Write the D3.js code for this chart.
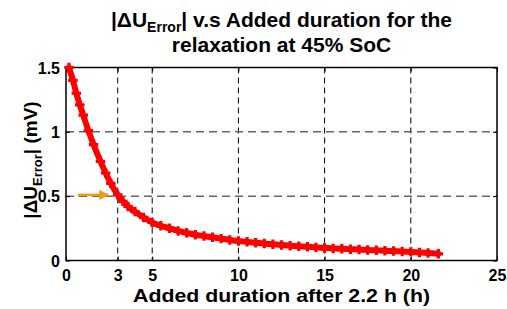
<html lang="en">
<head>
<meta charset="utf-8">
<script src="https://cdn.jsdelivr.net/npm/d3@7"></script>
</head>
<style>
body{margin:0;background:#fff;}
svg{display:block;font-family:"Liberation Sans",Arial,sans-serif;font-weight:bold;}
</style>
<body>
<div id="drawarea"></div>
<script>
// values
const durationH=[0.17,0.4,0.6,0.8,1.0,1.3,1.6,2.0,2.3,2.6,3.0,3.3,3.6,4.0,4.5,5.0,5.5,6.0,6.5,7.0,7.5,8.0,8.5,9.0,9.5,10.0,10.5,11.0,11.5,12.0,12.5,13.0,13.5,14.0,14.5,15.0,15.5,16.0,16.5,17.0,17.5,18.0,18.5,19.0,19.5,20.0,20.5,21.0,21.6]
const errorMV=[1.50,1.40,1.30,1.21,1.13,1.01,0.90,0.77,0.68,0.60,0.51,0.46,0.42,0.38,0.335,0.295,0.27,0.25,0.23,0.215,0.20,0.19,0.18,0.17,0.16,0.152,0.145,0.138,0.132,0.126,0.12,0.115,0.11,0.106,0.102,0.098,0.094,0.091,0.088,0.085,0.082,0.079,0.076,0.073,0.07,0.067,0.063,0.058,0.052]
const xTicks=[0,3,5,10,15,20,25]
const yTicks=[0,0.5,1,1.5]
const yTickLabels=["0","0.5","1","1.5"]
const xGrid=[3,5,10,15,20]
const yGrid=[0.5,1]
const arrowX=[0.68,2.45], arrowY=0.51

const W=507,H=309
const pL=66,pR=497,pT=67.5,pB=260.5

const svg=d3.select("#drawarea").append("svg").attr("width",W).attr("height",H)
svg.append("rect").attr("width",W).attr("height",H).attr("fill","#fff")

const x=d3.scaleLinear().domain([0,25]).range([pL,pR])
const y=d3.scaleLinear().domain([0,1.5]).range([pB,pT])

// grid
svg.append("g").selectAll("line").data(xGrid).enter().append("line")
  .attr("x1",d=>x(d)).attr("x2",d=>x(d)).attr("y1",pT).attr("y2",pB)
  .attr("stroke","#000").attr("stroke-width",1).attr("stroke-dasharray","6,4")
svg.append("g").selectAll("line").data(yGrid).enter().append("line")
  .attr("x1",pL).attr("x2",pR).attr("y1",d=>y(d)).attr("y2",d=>y(d))
  .attr("stroke","#666").attr("stroke-width",1.5).attr("stroke-dasharray","8,5")

// axes with inward ticks
const xAx=svg.append("g").attr("transform","translate(0,"+pB+")")
  .call(d3.axisBottom(x).tickValues(xTicks).tickSizeInner(-4).tickSizeOuter(0).tickPadding(9))
const yAx=svg.append("g").attr("transform","translate("+pL+",0)")
  .call(d3.axisLeft(y).tickValues(yTicks).tickFormat((d,i)=>yTickLabels[i]).tickSizeInner(-4).tickSizeOuter(0).tickPadding(6))
svg.append("g").attr("transform","translate(0,"+pT+")")
  .call(d3.axisTop(x).tickValues(xTicks).tickSizeInner(-4).tickSizeOuter(0).tickFormat(""))
svg.append("g").attr("transform","translate("+pR+",0)")
  .call(d3.axisRight(y).tickValues(yTicks).tickSizeInner(-4).tickSizeOuter(0).tickFormat(""))
svg.selectAll(".domain").remove()
svg.selectAll(".tick line").attr("stroke","#000")
svg.selectAll(".tick text").attr("font-family","Liberation Sans, Arial, sans-serif").attr("font-weight","bold").attr("font-size","16px").attr("fill","#000")
yAx.selectAll(".tick text").attr("dy","0.35em")

svg.append("rect").attr("x",pL).attr("y",pT).attr("width",pR-pL).attr("height",pB-pT)
  .attr("fill","none").attr("stroke","#000").attr("stroke-width",1.5)

// curve
const pts=durationH.map((d,i)=>[d,errorMV[i]])
const line=d3.line().x(d=>x(d[0])).y(d=>y(d[1])).curve(d3.curveMonotoneX)
svg.append("path").datum(pts).attr("d",line).attr("fill","none").attr("stroke","#ff0000").attr("stroke-width",6).attr("stroke-linejoin","round").attr("stroke-linecap","round")
svg.append("g").selectAll("path").data(pts).enter().append("path")
  .attr("d",d3.symbol().type(d3.symbolCross).size(50))
  .attr("transform",d=>"translate("+x(d[0])+","+y(d[1])+")")
  .attr("fill","#ff0000")

// orange arrow
svg.append("defs").append("marker").attr("id","ah").attr("viewBox","0 0 10 10").attr("refX",9).attr("refY",5)
  .attr("markerWidth",4.5).attr("markerHeight",4).attr("orient","auto").attr("markerUnits","strokeWidth")
  .append("path").attr("d","M0,0L10,5L0,10Z").attr("fill","#f39c12")
svg.append("line").attr("x1",x(arrowX[0])).attr("x2",x(arrowX[1])).attr("y1",y(arrowY)).attr("y2",y(arrowY))
  .attr("stroke","#f39c12").attr("stroke-width",2.5).attr("marker-end","url(#ah)")

// title
const t1=svg.append("text").attr("x",(pL+pR)/2).attr("y",27).attr("text-anchor","middle").attr("font-size","21px")
t1.append("tspan").text("|\u0394U")
t1.append("tspan").text("Error").attr("font-size","14px").attr("dy","5")
t1.append("tspan").text("| v.s Added duration for the").attr("dy","-5")
svg.append("text").attr("x",(pL+pR)/2).attr("y",52).attr("text-anchor","middle").attr("font-size","21px")
  .text("relaxation at 45% SoC")

// axis labels
svg.append("text").attr("x",(pL+pR)/2).attr("y",302).attr("text-anchor","middle").attr("font-size","19px")
  .attr("textLength",297).attr("lengthAdjust","spacingAndGlyphs")
  .text("Added duration after 2.2 h (h)")
const yl=svg.append("text").attr("transform","translate(37,160) rotate(-90)").attr("text-anchor","middle").attr("font-size","19px")
yl.append("tspan").text("|\u0394U")
yl.append("tspan").text("Error").attr("font-size","13px").attr("dy","5")
yl.append("tspan").text("| (mV)").attr("dy","-5")
</script>
</body>
</html>
